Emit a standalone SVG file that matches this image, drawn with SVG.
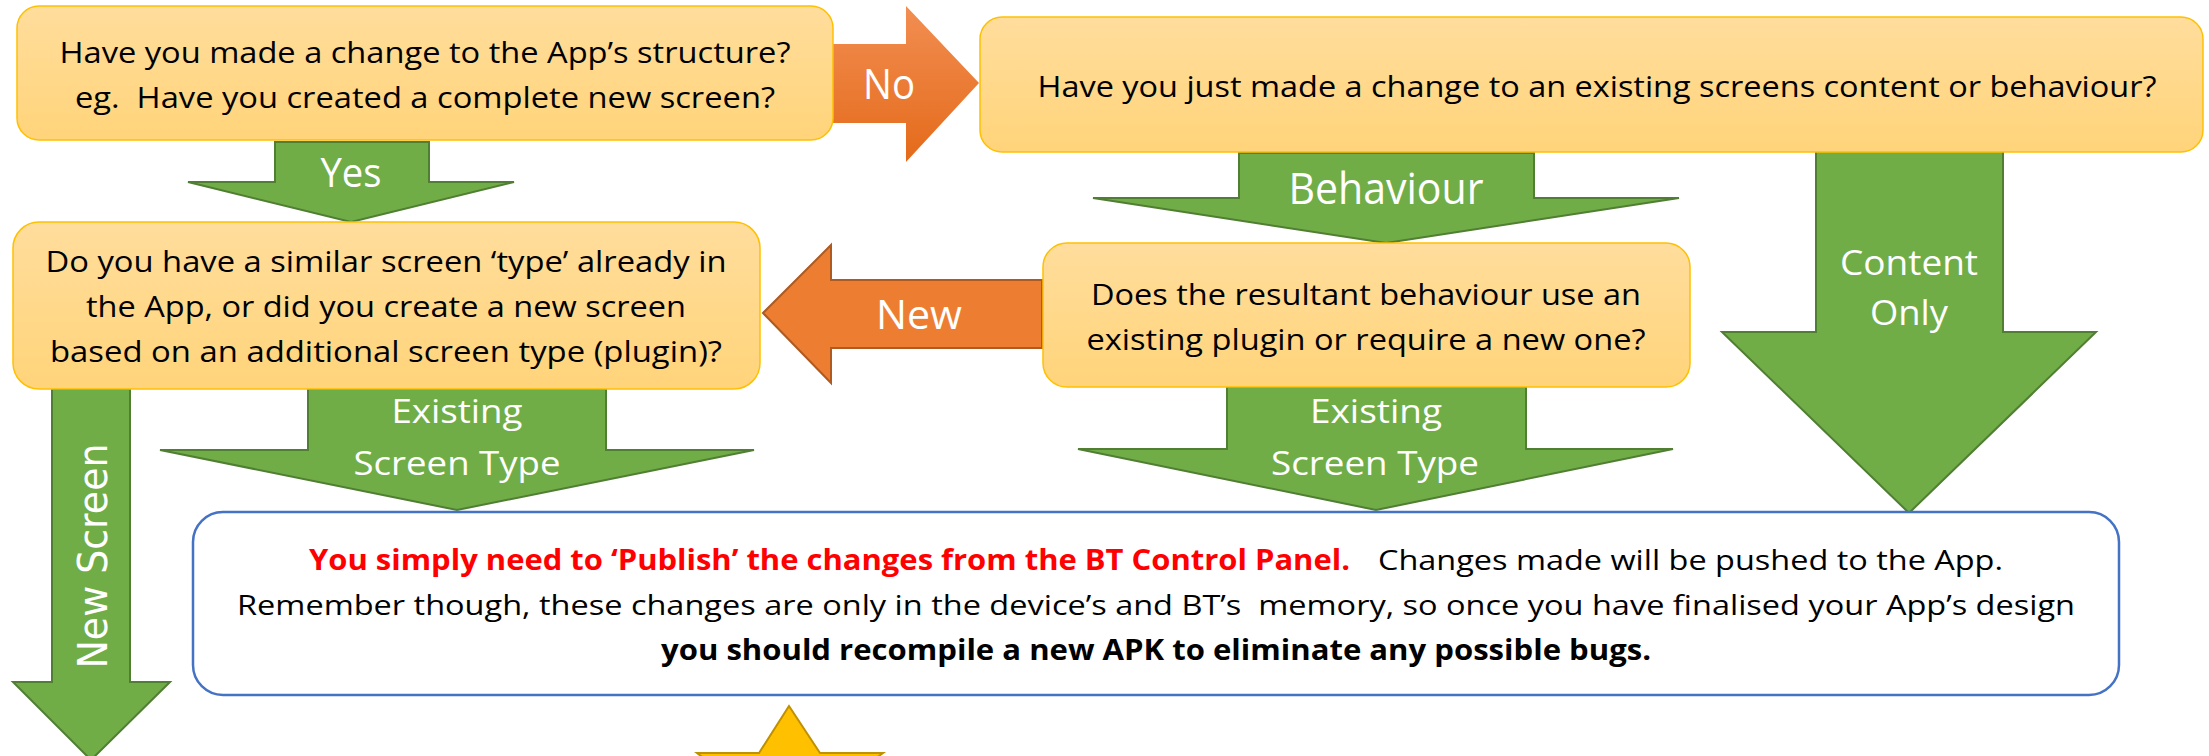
<svg xmlns="http://www.w3.org/2000/svg" width="2209" height="756" viewBox="0 0 2209 756">
<defs>
<linearGradient id="gY" x1="0" y1="0" x2="0" y2="1">
<stop offset="0" stop-color="#FFDD9C"/>
<stop offset="1" stop-color="#FFD47A"/>
</linearGradient>
<linearGradient id="gO" x1="0" y1="0" x2="0" y2="1">
<stop offset="0" stop-color="#F28E52"/>
<stop offset="1" stop-color="#E46A1A"/>
</linearGradient>
<style>
.box{fill:url(#gY);stroke:#FFC000;stroke-width:1.5}
.t{font-family:"Open Sans","Liberation Sans",sans-serif;font-size:30px;fill:#000}
.g{fill:#70AD47;stroke:#507E32;stroke-width:2;stroke-linejoin:miter}
.lbl{font-family:"Open Sans","Liberation Sans",sans-serif;fill:#fff;text-anchor:middle}
.b{font-family:"Open Sans","Liberation Sans",sans-serif;font-size:28px;fill:#000}
</style>
</defs>
<rect width="2209" height="756" fill="#fff"/>

<g id="connectors">
  <g id="arrow-no">
    <polygon points="833,44 906,44 906,6 979,83 906,162 906,123 833,123" fill="url(#gO)"/>
    <text class="lbl" x="889" y="99" font-size="42" textLength="52" lengthAdjust="spacingAndGlyphs">No</text>
  </g>
  <g id="arrow-yes">
    <polygon class="g" points="275,142 429,142 429,182 514,182 351,222 188,182 275,182"/>
    <text class="lbl" x="351" y="187" font-size="40" textLength="61" lengthAdjust="spacingAndGlyphs">Yes</text>
  </g>
  <g id="arrow-new">
    <polygon points="1042,280 831,280 831,245 763,313 831,383 831,348 1042,348" fill="#ED7D31" stroke="#AE5A21" stroke-width="2"/>
    <text class="lbl" x="919" y="329" font-size="41" textLength="86" lengthAdjust="spacingAndGlyphs">New</text>
  </g>
  <g id="arrow-behaviour">
    <polygon class="g" points="1239,153 1534,153 1534,198 1679,198 1386,243 1093,198 1239,198"/>
    <text class="lbl" x="1386" y="204" font-size="43" textLength="195" lengthAdjust="spacingAndGlyphs">Behaviour</text>
  </g>
  <g id="arrow-content">
    <polygon class="g" points="1816,151 2003,151 2003,332 2096,332 1909,513 1722,332 1816,332"/>
    <text class="lbl" x="1909" y="275" font-size="35" textLength="138" lengthAdjust="spacingAndGlyphs">Content</text>
    <text class="lbl" x="1909" y="325" font-size="35" textLength="78" lengthAdjust="spacingAndGlyphs">Only</text>
  </g>
  <g id="arrow-existing-left">
    <polygon class="g" points="308,389 606,389 606,450 754,450 457,510 160,450 308,450"/>
    <text class="lbl" x="457" y="423" font-size="33" textLength="131" lengthAdjust="spacingAndGlyphs">Existing</text>
    <text class="lbl" x="457" y="475" font-size="33" textLength="207" lengthAdjust="spacingAndGlyphs">Screen Type</text>
  </g>
  <g id="arrow-existing-right">
    <polygon class="g" points="1227,387 1526,387 1526,449 1673,449 1376,510 1078,449 1227,449"/>
    <text class="lbl" x="1376" y="423" font-size="33" textLength="132" lengthAdjust="spacingAndGlyphs">Existing</text>
    <text class="lbl" x="1375" y="475" font-size="33" textLength="208" lengthAdjust="spacingAndGlyphs">Screen Type</text>
  </g>
  <g id="arrow-new-screen">
    <polygon class="g" points="52,389 130,389 130,682 170,682 91,760 13,682 52,682"/>
    <text class="lbl" transform="translate(107,556) rotate(-90)" x="0" y="0" style="font-family:'DejaVu Sans',sans-serif" font-size="41" textLength="225" lengthAdjust="spacingAndGlyphs">New Screen</text>
  </g>
</g>

<g id="node-structure">
  <rect class="box" x="17" y="6" width="816" height="134" rx="22"/>
  <text class="t" x="425" y="63" text-anchor="middle" textLength="731" lengthAdjust="spacingAndGlyphs">Have you made a change to the App’s structure?</text>
  <text class="t" x="425" y="108" text-anchor="middle" textLength="700" lengthAdjust="spacingAndGlyphs" xml:space="preserve">eg.  Have you created a complete new screen?</text>
</g>

<g id="node-existing-change">
  <rect class="box" x="980" y="17" width="1223" height="135" rx="22"/>
  <text class="t" x="1597" y="97" text-anchor="middle" textLength="1119" lengthAdjust="spacingAndGlyphs">Have you just made a change to an existing screens content or behaviour?</text>
</g>

<g id="node-screen-type">
  <rect class="box" x="13" y="222" width="747" height="167" rx="26"/>
  <text class="t" x="386" y="272" text-anchor="middle" textLength="681" lengthAdjust="spacingAndGlyphs">Do you have a similar screen ‘type’ already in</text>
  <text class="t" x="386" y="317" text-anchor="middle" textLength="600" lengthAdjust="spacingAndGlyphs">the App, or did you create a new screen</text>
  <text class="t" x="386" y="362" text-anchor="middle" textLength="672" lengthAdjust="spacingAndGlyphs">based on an additional screen type (plugin)?</text>
</g>

<g id="node-plugin">
  <rect class="box" x="1043" y="243" width="647" height="144" rx="24"/>
  <text class="t" x="1366" y="305" text-anchor="middle" textLength="550" lengthAdjust="spacingAndGlyphs">Does the resultant behaviour use an</text>
  <text class="t" x="1366" y="350" text-anchor="middle" textLength="559" lengthAdjust="spacingAndGlyphs">existing plugin or require a new one?</text>
</g>

<g id="node-publish">
  <rect x="193" y="512" width="1926" height="183" rx="30" fill="#fff" stroke="#4472C4" stroke-width="2.5"/>
  <text class="b" x="309" y="570" font-weight="bold" style="fill:#FF0000" textLength="1041" lengthAdjust="spacingAndGlyphs">You simply need to ‘Publish’ the changes from the BT Control Panel.</text>
  <text class="b" x="1378" y="570" textLength="625" lengthAdjust="spacingAndGlyphs">Changes made will be pushed to the App.</text>
  <text class="b" x="237" y="615" textLength="1838" lengthAdjust="spacingAndGlyphs" xml:space="preserve">Remember though, these changes are only in the device’s and BT’s  memory, so once you have finalised your App’s design</text>
  <text class="b" x="661" y="660" font-weight="bold" textLength="990" lengthAdjust="spacingAndGlyphs">you should recompile a new APK to eliminate any possible bugs.</text>
</g>

<g id="node-star">
  <polygon points="789,706 759,753 697,753 745,790 720,840 789,815 858,840 833,790 883,753 820,753" fill="#FFC000" stroke="#BF9000" stroke-width="2"/>
</g>
</svg>
